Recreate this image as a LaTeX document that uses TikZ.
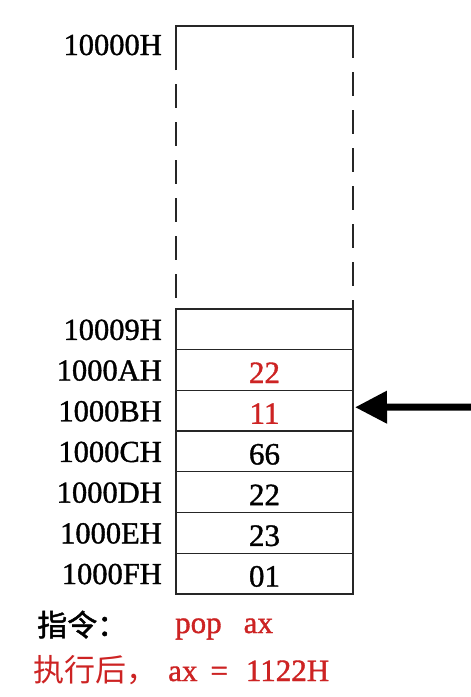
\documentclass[tikz,border=0pt]{standalone}
\usepackage{fontspec}
\setmainfont{Liberation Serif}
\newfontfamily\labfont[FakeBold=1.2]{Liberation Serif}
\newfontfamily\cjkfont{Noto Sans CJK SC}
\newfontfamily\cjkbold[FakeBold=1.5]{Noto Sans CJK SC}
\usetikzlibrary{arrows.meta}
\definecolor{redtxt}{RGB}{205,35,35}
\tikzset{
  boxline/.style={line width=1.3pt, draw=black!85},
  cell/.style={boxline, draw, minimum width=177pt, minimum height=40.7pt, inner sep=0pt, outer sep=0pt},
  addr/.style={font=\labfont\fontsize{30.5}{34}\selectfont, anchor=base east, inner sep=0pt},
  val/.style={font=\labfont\fontsize{31}{34}\selectfont, anchor=base, inner sep=0pt},
  redval/.style={val, text=redtxt},
  dashside/.style={boxline, dash pattern=on 24pt off 14pt, dash phase=24pt},
}
\begin{document}
\begin{tikzpicture}[x=1pt,y=-1pt]
\useasboundingbox[fill=white] (0,0) rectangle (471,697);
% memory cells
\node[cell] (r9) at (264.5,329.35) {};
\node[cell] (rA) at (264.5,370.05) {};
\node[cell] (rB) at (264.5,410.75) {};
\node[cell] (rC) at (264.5,451.45) {};
\node[cell] (rD) at (264.5,492.15) {};
\node[cell] (rE) at (264.5,532.85) {};
\node[cell] (rF) at (264.5,573.55) {};
% top part of the stack segment
\coordinate (tl) at (176,26);
\coordinate (tr) at (353,26);
\coordinate (ls) at (176,70);
\coordinate (rs) at (353,58);
\draw[boxline] (ls) -- (tl) -- (tr) -- (rs);
\draw[dashside] (ls) -- (r9.north west);
\draw[dashside] (rs) -- (r9.north east);
% addresses
\node[addr] (a0) at (162,55) {10000H};
\node[addr] (a9) at ([xshift=-14pt,yshift=-10.5pt]r9.west) {10009H};
\node[addr] (aA) at ([xshift=-14pt,yshift=-10.5pt]rA.west) {1000AH};
\node[addr] (aB) at ([xshift=-14pt,yshift=-10.5pt]rB.west) {1000BH};
\node[addr] (aC) at ([xshift=-14pt,yshift=-10.5pt]rC.west) {1000CH};
\node[addr] (aD) at ([xshift=-14pt,yshift=-10.5pt]rD.west) {1000DH};
\node[addr] (aE) at ([xshift=-14pt,yshift=-10.5pt]rE.west) {1000EH};
\node[addr] (aF) at ([xshift=-14pt,yshift=-10.5pt]rF.west) {1000FH};
% values
\node[redval] (vA) at ([yshift=-13pt]rA.center) {22};
\node[redval] (vB) at ([yshift=-13pt]rB.center) {11};
\node[val] (vC) at ([yshift=-13pt]rC.center) {66};
\node[val] (vD) at ([yshift=-13pt]rD.center) {22};
\node[val] (vE) at ([yshift=-13pt]rE.center) {23};
\node[val] (vF) at ([yshift=-13pt]rF.center) {01};
% stack pointer arrow
\coordinate (sp) at (471,407);
\draw[line width=7pt, -{Triangle[length=32pt,width=31pt]}] (sp) -- ([xshift=2pt,yshift=3.5pt]rB.east);
% instruction text
\node[anchor=base west, inner sep=0pt, font=\cjkbold\fontsize{30}{34}\selectfont] (instr) at (37,636) {指令：};
\node[anchor=base west, inner sep=0pt, text=redtxt, font=\labfont\fontsize{31}{34}\selectfont] (pop) at (175,633) {pop\hspace{22pt}ax};
\node[anchor=base west, inner sep=0pt, text=redtxt] (after) at (33,681) {{\cjkfont\fontsize{31}{34}\selectfont 执行后，}\hspace{11pt}{\labfont\fontsize{31}{34}\selectfont ax\hspace{13pt}=\hspace{18pt}1122H}};
\end{tikzpicture}
\end{document}
